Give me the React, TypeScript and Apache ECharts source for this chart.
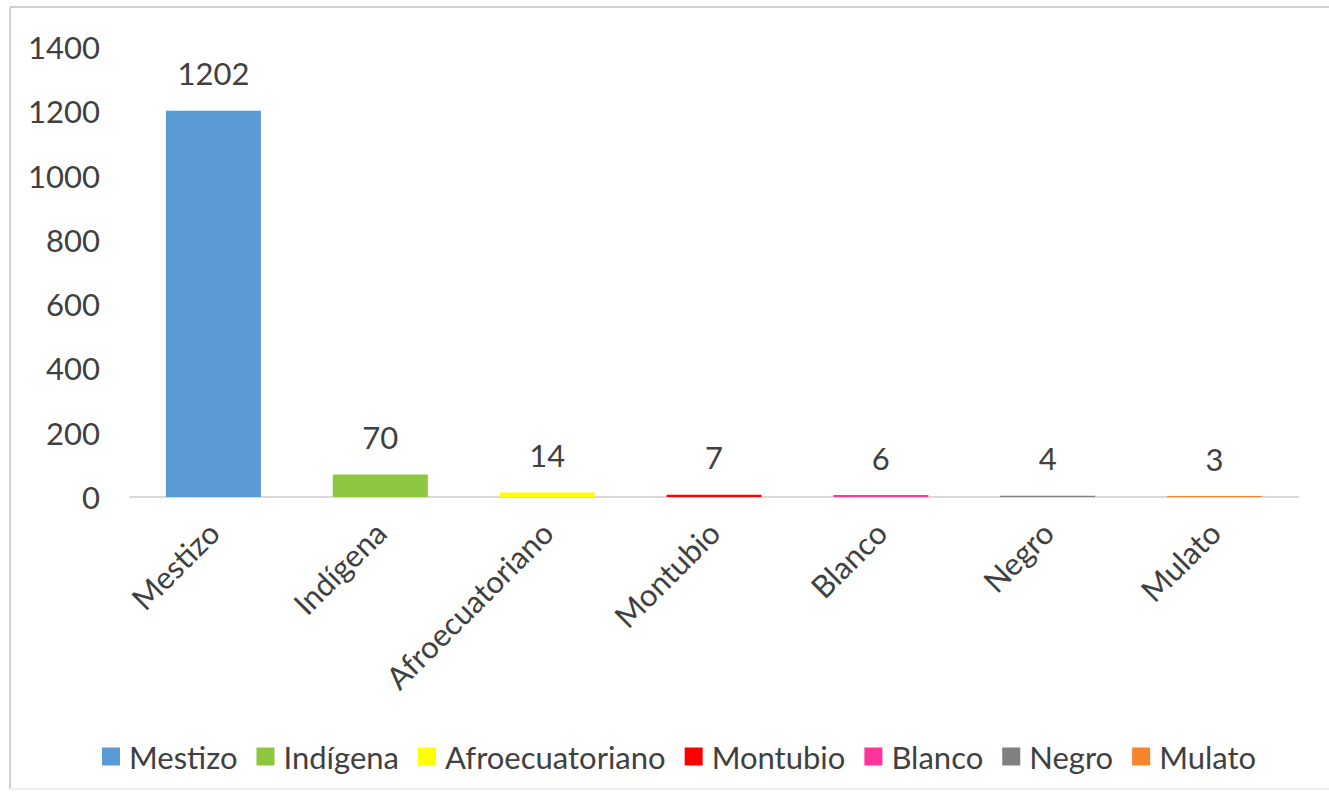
import React, { useEffect, useRef } from "react";
import * as echarts from "echarts";

const categories = ["Mestizo", "Indígena", "Afroecuatoriano", "Montubio", "Blanco", "Negro", "Mulato"];
const values = [1202, 70, 14, 7, 6, 4, 3];
const colors = ["#5b9bd5", "#8dc63f", "#ffff00", "#ff0000", "#ff3399", "#808080", "#f7832a"];
const yTicks = { min: 0, max: 1400, interval: 200 };

const FONT = "Lato, 'Noto Sans', sans-serif";
const TEXT = "#404040";
const FS = 31;

export default function App() {
  const ref = useRef<HTMLDivElement>(null);
  useEffect(() => {
    if (!ref.current) return;
    const chart = echarts.init(ref.current, null, { renderer: "svg" });
    const series = categories.map((name, i) => ({
      name,
      type: "bar",
      stack: "all",
      barWidth: 95,
      data: values.map((v, j) => (j === i ? v : "-")),
      itemStyle: { color: colors[i] },
      label: {
        show: true,
        position: "top",
        distance: 22,
        color: TEXT,
        fontFamily: FONT,
        fontSize: FS,
      },
    }));
    chart.setOption({
      animation: false,
      backgroundColor: "#ffffff",
      color: colors,
      textStyle: { fontFamily: FONT },
      grid: { left: 130, right: 31, top: 47, bottom: 304, containLabel: false },
      xAxis: {
        type: "category",
        data: categories,
        axisLine: { show: true, lineStyle: { color: "#d9d9d9", width: 2 } },
        axisTick: { show: false },
        axisLabel: {
          rotate: 45,
          margin: 30,
          color: TEXT,
          fontFamily: FONT,
          fontSize: FS,
          interval: 0,
        },
      },
      yAxis: {
        type: "value",
        min: yTicks.min,
        max: yTicks.max,
        interval: yTicks.interval,
        axisLine: { show: false },
        axisTick: { show: false },
        splitLine: { show: false },
        axisLabel: {
          margin: 30,
          color: TEXT,
          fontFamily: FONT,
          fontSize: FS,
          formatter: (v: number) => String(v),
        },
      },
      legend: {
        left: 97,
        top: 736,
        itemWidth: 18,
        itemHeight: 18,
        itemGap: 19,
        icon: "rect",
        textStyle: { color: TEXT, fontFamily: FONT, fontSize: FS, padding: [0, 0, 0, 4] },
        data: categories,
      },
      graphic: [
        { type: "line", shape: { x1: 10, y1: 7, x2: 1329, y2: 7 }, style: { stroke: "#d0d0d0", lineWidth: 2 } },
        { type: "line", shape: { x1: 10, y1: 7, x2: 10, y2: 789 }, style: { stroke: "#d0d0d0", lineWidth: 2 } },
        { type: "line", shape: { x1: 10, y1: 789, x2: 1329, y2: 789 }, style: { stroke: "#f0f0f0", lineWidth: 2 } },
      ],
      series,
    });
    return () => chart.dispose();
  }, []);
  return <div ref={ref} style={{ position: "fixed", left: 0, top: 0, width: 1329, height: 801 }} />;
}
